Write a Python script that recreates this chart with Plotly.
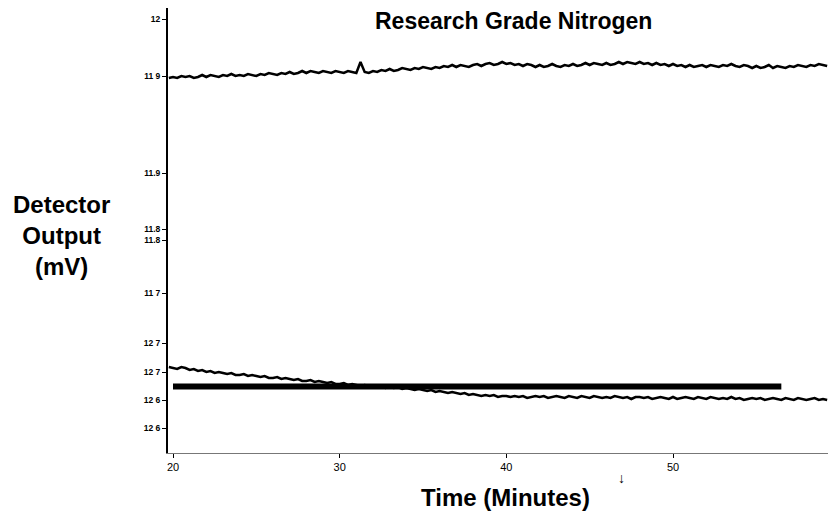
import numpy as np
import plotly.graph_objects as go

# sampling times (minutes), every quarter minute
time_min = np.arange(19.75, 59.3, 0.25)

# detector output, chart units (upper trace)
upper = [375,
         376, 375, 377, 376,  377, 375, 376, 378,  376, 378, 377, 376,
         378, 377, 379, 377,  378, 377, 379, 378,  377, 379, 378, 380,
         379, 378, 380, 379,  381, 379, 380, 382,  380, 382, 381, 380,
         382, 381, 380, 382,  381, 380, 382, 381,  380, 391, 381, 380,
         382, 381, 383, 382,  384, 382, 383, 385,  384, 383, 385, 384,
         386, 385, 384, 386,  385, 387, 386, 388,  386, 388, 387, 386,
         388, 389, 387, 389,  390, 388, 389, 391,  389, 390, 388, 389,
         387, 389, 388, 386,  388, 386, 387, 389,  387, 386, 388, 387,
         389, 387, 388, 390,  388, 390, 389, 388,  390, 388, 389, 391,
         389, 391, 390, 389,  391, 389, 390, 388,  390, 388, 389, 387,
         389, 387, 388, 386,  388, 386, 387, 388,  386, 388, 387, 386,
         388, 387, 389, 387,  386, 388, 387, 385,  387, 385, 386, 388,
         385, 387, 386, 385,  387, 386, 388, 387,  386, 388, 387, 389,
         388, 387]

# detector output, chart units (lower trace)
lower = [86,
         85, 84, 86, 85,  83, 84, 82, 83,  81, 82, 80, 81,
         80, 79, 80, 78,  78, 79, 77, 78,  77, 76, 77, 75,
         75, 76, 74, 75,  74, 73, 74, 72,  72, 73, 71, 72,
         71, 70, 71, 69,  69, 70, 68, 69,  68, 67, 68, 67,
         67, 66, 67, 65,  66, 65, 66, 64,  65, 64, 63, 64,
         63, 62, 63, 61,  62, 61, 60, 61,  60, 59, 60, 58,
         59, 58, 57, 58,  57, 58, 56, 57,  57, 56, 57, 56,
         57, 55, 56, 57,  56, 57, 55, 56,  57, 56, 55, 57,
         56, 55, 57, 56,  55, 57, 56, 55,  56, 55, 57, 56,
         55, 56, 54, 56,  56, 55, 56, 54,  55, 56, 55, 54,
         56, 54, 55, 56,  55, 54, 56, 55,  54, 56, 55, 54,
         55, 54, 56, 54,  55, 53, 54, 55,  54, 55, 53, 54,
         55, 54, 53, 55,  54, 53, 55, 54,  53, 54, 55, 53,
         54, 53]

# reference bar
bar_x = [20.0, 56.5]
bar_y = [66.5, 66.5]

# y ticks as printed on the original scan
y_tickvals = [434, 377, 280, 224, 213, 160, 110, 81, 53, 25]
y_ticktext = ["12", "11 9", "11.9", "11.8", "11.8", "11 7", "12 7", "12 7", "12 6", "12 6"]
x_tickvals = [20, 30, 40, 50]

fig = go.Figure()
fig.add_trace(go.Scatter(x=time_min, y=upper, mode="lines",
                         line=dict(color="black", width=2.5), showlegend=False))
fig.add_trace(go.Scatter(x=time_min, y=lower, mode="lines",
                         line=dict(color="black", width=2.5), showlegend=False))
fig.add_trace(go.Scatter(x=bar_x, y=bar_y, mode="lines",
                         line=dict(color="black", width=6), showlegend=False))

# page has an 8px body margin, so the figure is shrunk to fit the window
fig.update_layout(
    width=829, height=508,
    margin=dict(l=160, r=9, t=0, b=63),
    paper_bgcolor="white", plot_bgcolor="white",
    font=dict(family="Liberation Sans, Arial, sans-serif", color="black"),
    xaxis=dict(range=[19.7, 59.3], tickvals=x_tickvals, ticks="outside", ticklen=4,
               tickcolor="black", showgrid=False, zeroline=False,
               showline=True, linecolor="#777", linewidth=1,
               tickfont=dict(size=11)),
    yaxis=dict(range=[0, 445], tickvals=y_tickvals,
               ticktext=["<b>%s</b>" % t for t in y_ticktext],
               ticks="outside", ticklen=4, tickcolor="black",
               showgrid=False, zeroline=False, showline=True,
               linecolor="black", linewidth=2,
               tickfont=dict(size=8.5)),
    annotations=[
        dict(text="<b>Research Grade Nitrogen</b>", x=0.524, y=0.971,
             xref="paper", yref="paper", xanchor="center", yanchor="middle",
             showarrow=False, font=dict(size=23)),
        dict(text="<b>Detector<br>Output<br>(mV)</b>", x=-0.162, y=0.488,
             xref="paper", yref="paper", xanchor="center", yanchor="middle",
             showarrow=False, font=dict(size=24), align="center"),
        dict(text="<b>Time (Minutes)</b>", x=0.511, y=-0.099,
             xref="paper", yref="paper", xanchor="center", yanchor="middle",
             showarrow=False, font=dict(size=24)),
        dict(text="<b>↓</b>", x=46.9, y=-0.056, xref="x", yref="paper",
             xanchor="center", yanchor="middle",
             showarrow=False, font=dict(size=14)),
    ],
)

fig.write_html("out.html")
